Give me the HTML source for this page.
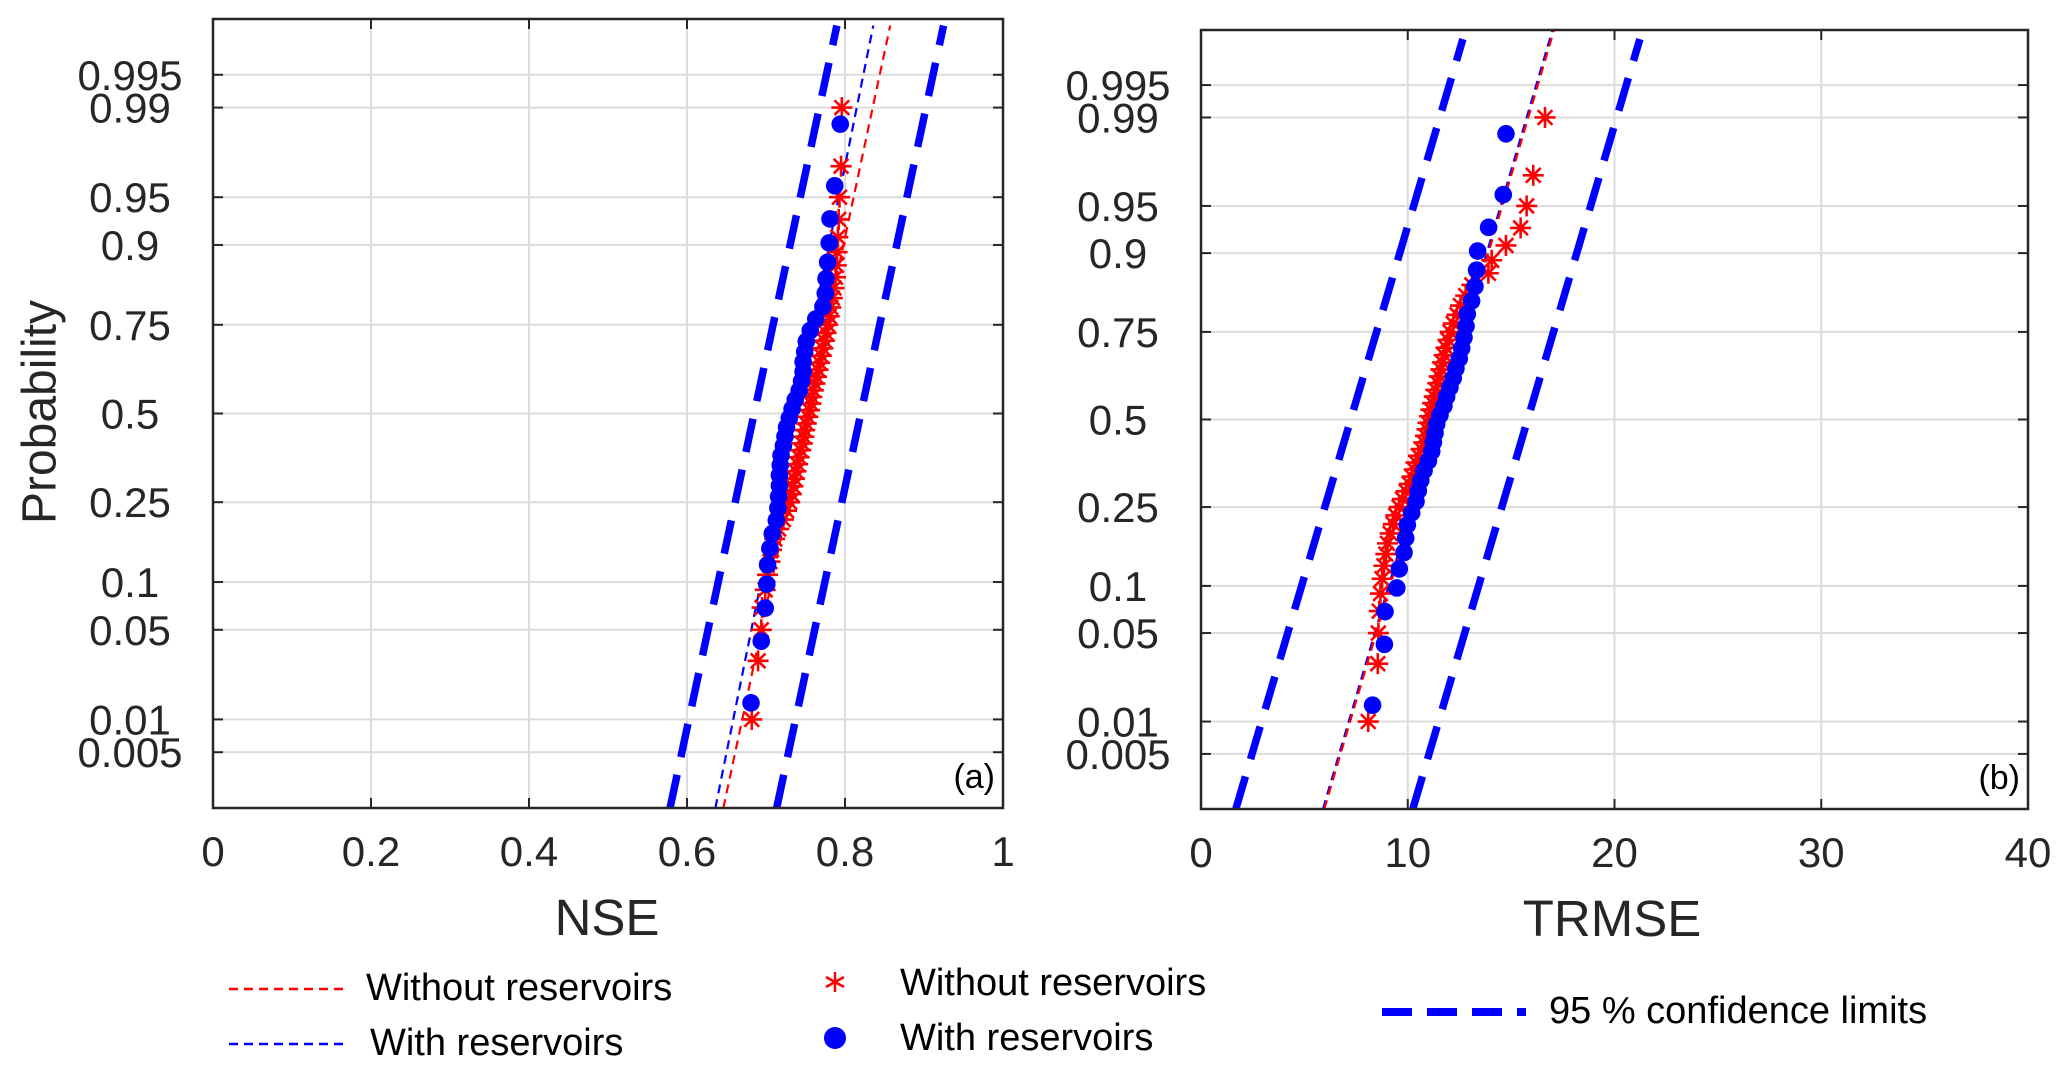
<!DOCTYPE html>
<html><head><meta charset="utf-8"><style>
html,body{margin:0;padding:0;background:#fff;}
svg{display:block;font-family:"Liberation Sans",Arial,sans-serif;}
</style></head><body>
<svg id="chart" width="2067" height="1075" viewBox="0 0 2067 1075" xmlns="http://www.w3.org/2000/svg">
<defs>
<clipPath id="clipL"><rect x="213" y="19" width="790" height="789"/></clipPath>
<clipPath id="clipR"><rect x="1201" y="30" width="827" height="779"/></clipPath>
</defs>
<g id="panelA"></g>
<g id="panelB"></g>
<text x="40" y="412" font-size="48" fill="#262626" text-anchor="middle" dominant-baseline="central" transform="rotate(-90 40 412)">Probability</text>
<g>
<line x1="229" y1="989" x2="343" y2="989" stroke="#ff0000" stroke-width="2.5" stroke-dasharray="9,6"/>
<text x="366" y="1000" font-size="38" fill="#000">Without reservoirs</text>
<line x1="229" y1="1044" x2="343" y2="1044" stroke="#0000ff" stroke-width="2.5" stroke-dasharray="9,6"/>
<text x="370" y="1055" font-size="38" fill="#000">With reservoirs</text>
<g stroke="#ff0000" stroke-width="2.5">
<line x1="835" y1="972" x2="835" y2="992"/><line x1="826" y1="977" x2="844" y2="987"/><line x1="826" y1="987" x2="844" y2="977"/></g>
<text x="900" y="995" font-size="38" fill="#000">Without reservoirs</text>
<circle cx="835" cy="1038" r="11" fill="#0000ff"/>
<text x="900" y="1050" font-size="38" fill="#000">With reservoirs</text>
<line x1="1382" y1="1012" x2="1526" y2="1012" stroke="#0000ff" stroke-width="8" stroke-dasharray="30,15"/>
<text x="1549" y="1023" font-size="38" fill="#000">95 % confidence limits</text>
</g>
</svg>
<script>
// ---- data: panel (a) NSE ----
const nseWithout = [0.682,0.690,0.694,0.695,0.699,0.702,0.705,0.707,0.711,0.716,0.722,0.726,0.730,0.732,0.734,0.736,0.738,0.740,0.742,0.744,0.746,0.748,0.749,0.751,0.753,0.755,0.757,0.758,0.760,0.762,0.764,0.766,0.768,0.770,0.772,0.774,0.776,0.778,0.780,0.782,0.784,0.786,0.788,0.789,0.790,0.791,0.792,0.793,0.795,0.796];
const nseWith = [0.681,0.694,0.699,0.701,0.702,0.705,0.708,0.713,0.715,0.716,0.717,0.717,0.718,0.719,0.722,0.724,0.726,0.7295,0.733,0.737,0.742,0.745,0.747,0.747,0.749,0.751,0.756,0.763,0.772,0.775,0.776,0.778,0.780,0.781,0.787,0.794];
const nseFitWithout = [0.7525, 0.0355];
const nseFitWith = [0.7367, 0.0336];
const nseCIHalf = [0.0675];
const nseTicks = ["0","0.2","0.4","0.6","0.8","1"];
// ---- data: panel (b) TRMSE ----
const trmseWithout = [8.09,8.55,8.58,8.62,8.68,8.76,8.85,8.94,9.02,9.15,9.30,9.42,9.58,9.75,9.92,10.08,10.20,10.32,10.40,10.52,10.65,10.78,10.86,10.93,10.98,11.05,11.12,11.20,11.28,11.36,11.45,11.52,11.60,11.68,11.76,11.85,11.95,12.05,12.20,12.38,12.55,12.80,13.10,13.90,14.06,14.75,15.46,15.75,16.07,16.64];
const trmseWith = [8.30,8.87,8.90,9.47,9.59,9.82,9.90,9.98,10.19,10.40,10.51,10.63,10.79,11.00,11.16,11.24,11.32,11.40,11.56,11.75,11.88,12.04,12.20,12.33,12.49,12.61,12.72,12.82,12.88,13.09,13.25,13.33,13.38,13.91,14.62,14.75];
const trmseFitWithout = [11.52, 1.852];
const trmseFitWith = [11.45, 1.85];
const trmseCIHalf = [4.28];
const trmseTicks = ["0","10","20","30","40"];
const probTicks = [0.005,0.01,0.05,0.1,0.25,0.5,0.75,0.9,0.95,0.99,0.995];
const probLabels = ["0.005","0.01","0.05","0.1","0.25","0.5","0.75","0.9","0.95","0.99","0.995"];

const NS = "http://www.w3.org/2000/svg";
function mk(tag, attrs, parent){ const e=document.createElementNS(NS,tag); for(const k in attrs) e.setAttribute(k,attrs[k]); parent.appendChild(e); return e; }
function norminv(p){
  const a=[-39.69683028665376,220.9460984245205,-275.9285104469687,138.357751867269,-30.66479806614716,2.506628277459239];
  const b=[-54.47609879822406,161.5858368580409,-155.6989798598866,66.80131188771972,-13.28068155288572];
  const c=[-0.007784894002430293,-0.3223964580411365,-2.400758277161838,-2.549732539343734,4.374664141464968,2.938163982698783];
  const d=[0.007784695709041462,0.3224671290700398,2.445134137142996,3.754408661907416];
  const pl=0.02425; let q,r;
  if(p<pl){q=Math.sqrt(-2*Math.log(p));return (((((c[0]*q+c[1])*q+c[2])*q+c[3])*q+c[4])*q+c[5])/((((d[0]*q+d[1])*q+d[2])*q+d[3])*q+1);}
  if(p>1-pl){q=Math.sqrt(-2*Math.log(1-p));return -(((((c[0]*q+c[1])*q+c[2])*q+c[3])*q+c[4])*q+c[5])/((((d[0]*q+d[1])*q+d[2])*q+d[3])*q+1);}
  q=p-0.5;r=q*q;return (((((a[0]*r+a[1])*r+a[2])*r+a[3])*r+a[4])*r+a[5])*q/(((((b[0]*r+b[1])*r+b[2])*r+b[3])*r+b[4])*r+1);
}

function panel(g, cfg){
  const {L,T,W,H,xmin,xmax,ticks,clip,red,blue,fitR,fitB,ci,ciTop,fitTop,tag,tagX} = cfg;
  const x = v => L + (v-xmin)/(xmax-xmin)*W;
  const y = z => T + H/2 - z*(H/6);
  ticks.forEach((t,i)=>{
    const xv = x(parseFloat(t));
    if(i>0 && i<ticks.length-1){ const gl=mk('line',{x1:xv,x2:xv,y1:T,y2:T+H,stroke:'#dcdcdc','stroke-width':2},g);
        }
    const tk=mk('line',{x1:xv,x2:xv,y1:T+H,y2:T+H-10,stroke:'#262626','stroke-width':2},g);
     
    const tk2=mk('line',{x1:xv,x2:xv,y1:T,y2:T+10,stroke:'#262626','stroke-width':2},g);
     
    const tl=mk('text',{x:xv,y:T+H+58,'font-size':42,fill:'#262626','text-anchor':'middle'},g); tl.textContent=t;
     
  });
  probTicks.forEach((p,i)=>{
    const yv=y(norminv(p));
    const gl=mk('line',{x1:L,x2:L+W,y1:yv,y2:yv,stroke:'#dcdcdc','stroke-width':2},g);
     
    [[L,L+10],[L+W,L+W-10]].forEach(([a,b])=>{const tk=mk('line',{x1:a,x2:b,y1:yv,y2:yv,stroke:'#262626','stroke-width':2},g);
       });
    const tl=mk('text',{x:L-83,y:yv+15,'font-size':42,fill:'#262626','text-anchor':'middle'},g); tl.textContent=probLabels[i];
     
  });
  const cg=mk('g',{'clip-path':'url(#'+clip+')'},g);
   
  function fitLine(mu,sd,off,zt,color,w,dash,name){
    const l=mk('line',{x1:x(mu-3*sd+off),y1:y(-3),x2:x(mu+zt*sd+off),y2:y(zt),stroke:color,'stroke-width':w,'stroke-dasharray':dash},cg);
     
  }
  fitLine(fitR[0],fitR[1],-ci[0],ciTop,'#0000ff',7.5,'34,18','ci-lower-line');
  fitLine(fitR[0],fitR[1],ci[0],ciTop,'#0000ff',7.5,'34,18','ci-upper-line');
  fitLine(fitB[0],fitB[1],0,fitTop,'#0000ff',2.2,'9,6','fit-line-with-reservoirs');
  fitLine(fitR[0],fitR[1],0,fitTop,'#ff0000',2.2,'9,6','fit-line-without-reservoirs');
  red.forEach((v,i)=>{
    const cx=x(v), cy=y(norminv((i+0.5)/red.length)), s=10.5;
    const sg=mk('g',{stroke:'#ff0000','stroke-width':2.6},cg);
     
    mk('line',{x1:cx,y1:cy-s,x2:cx,y2:cy+s},sg);
    mk('line',{x1:cx-s,y1:cy,x2:cx+s,y2:cy},sg);
    mk('line',{x1:cx-s*0.7,y1:cy-s*0.7,x2:cx+s*0.7,y2:cy+s*0.7},sg);
    mk('line',{x1:cx-s*0.7,y1:cy+s*0.7,x2:cx+s*0.7,y2:cy-s*0.7},sg);
  });
  blue.forEach((v,i)=>{
    const c=mk('circle',{cx:x(v),cy:y(norminv((i+0.5)/blue.length)),r:8.8,fill:'#0000ff'},cg);
     
  });
  const fr=mk('rect',{x:L,y:T,width:W,height:H,fill:'none',stroke:'#262626','stroke-width':2.5},g);
   
  const tg=mk('text',{x:L+W-8,y:T+H-20,'font-size':34,fill:'#000','text-anchor':'end'},g); tg.textContent=tag;
   
  const xt=mk('text',{x:tagX,y:T+H+127,'font-size':51,fill:'#262626','text-anchor':'middle'},g); xt.textContent=cfg.xtitle;
   
}
panel(document.getElementById('panelA'),{L:213,T:19,W:790,H:789,xmin:0,xmax:1,ticks:nseTicks,clip:'clipL',
  red:nseWithout,blue:nseWith,fitR:nseFitWithout,fitB:nseFitWith,ci:nseCIHalf,ciTop:2.95,fitTop:2.95,tag:'(a)',tagX:607,xtitle:'NSE'});
panel(document.getElementById('panelB'),{L:1201,T:30,W:827,H:779,xmin:0,xmax:40,ticks:trmseTicks,clip:'clipR',
  red:trmseWithout,blue:trmseWith,fitR:trmseFitWithout,fitB:trmseFitWith,ci:trmseCIHalf,ciTop:2.93,fitTop:3.05,tag:'(b)',tagX:1612,xtitle:'TRMSE'});
</script>
</body></html>
